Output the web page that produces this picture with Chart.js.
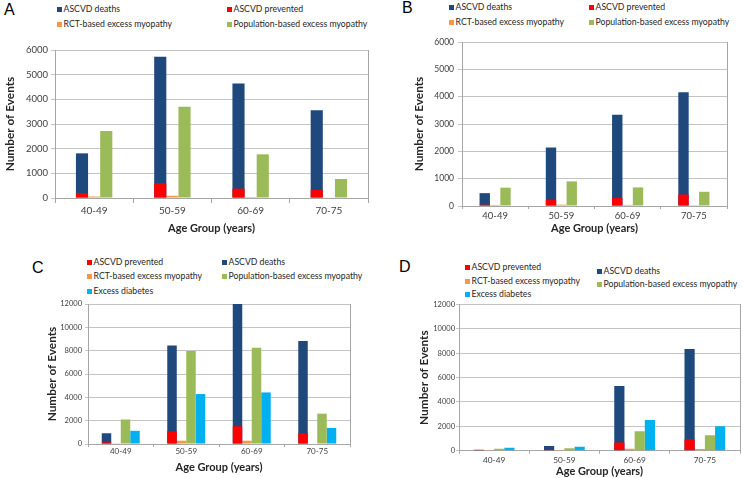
<!DOCTYPE html>
<html>
<head>
<meta charset="utf-8">
<script src="https://cdn.jsdelivr.net/npm/chart.js@4.4.0/dist/chart.umd.min.js"></script>
<style>
body { margin: 0; width: 743px; height: 478px; background: #ffffff; position: relative; overflow: hidden; font-family: Lato, sans-serif; }
.chart-box { position: absolute; }
.letter { position: absolute; font-family: 'Liberation Sans', Arial, sans-serif; font-size: 16px; color: #000; line-height: 16px; }
.leg { position: absolute; font-size: 8.7px; color: #262626; white-space: nowrap; line-height: 12px; transform: translateY(-50%); }
.leg span { display: inline-block; width: 5px; height: 5px; margin-right: 1.5px; vertical-align: 0.5px; }
</style>
</head>
<body>
<script>
const ageGroups = ['40-49', '50-59', '60-69', '70-75'];

const seriesNames = {
    deaths: 'ASCVD deaths',
    prevented: 'ASCVD prevented',
    rct: 'RCT-based excess myopathy',
    pop: 'Population-based excess myopathy',
    diabetes: 'Excess diabetes'
};
const seriesColors = {
    deaths: '#1f497d',
    prevented: '#ff0000',
    rct: '#f79646',
    pop: '#9bbb59',
    diabetes: '#00b0f0'
};

// panel A
const deathsA = [1810, 5730, 4640, 3560];
const preventedA = [200, 600, 380, 320];
const rctA = [60, 90, 40, 25];
const popA = [2720, 3700, 1770, 770];

// panel B
const deathsB = [470, 2140, 3340, 4160];
const preventedB = [50, 220, 290, 420];
const rctB = [40, 50, 40, 30];
const popB = [670, 900, 680, 520];

// panel C
const deathsC = [920, 8450, 12000, 8820];
const preventedC = [150, 1100, 1520, 940];
const rctC = [20, 280, 280, 40];
const popC = [2100, 7980, 8250, 2600];
const diabetesC = [1130, 4280, 4420, 1380];

// panel D
const deathsD = [80, 390, 5320, 8350];
const preventedD = [20, 50, 680, 940];
const rctD = [10, 20, 160, 130];
const popD = [150, 200, 1600, 1260];
const diabetesD = [240, 330, 2520, 2000];

const yMaxTop = 6000, yStepTop = 1000;
const yMaxBottom = 12000, yStepBottom = 2000;

const gridColor = '#c4c4c4';
const axisColor = '#a6a6a6';
const tickColor = '#404040';
const titleColor = '#262626';

const drawOrder = ['prevented', 'deaths', 'rct', 'pop', 'diabetes'];

function addDiv(cls, css, html) {
    const d = document.createElement('div');
    d.className = cls;
    d.style.cssText = css;
    d.innerHTML = html;
    document.body.appendChild(d);
    return d;
}

function makePanel(p) {
    addDiv('letter', `left:${p.letterX}px;top:${p.letterY}px`, p.letter);

    p.legendOrder.forEach((key, i) => {
        const col = i % 2;
        const row = Math.floor(i / 2);
        const y = p.legendRows[col][row];
        addDiv('leg', `left:${p.legendCols[col]}px;top:${y}px`,
            `<span style="background:${seriesColors[key]}"></span>${seriesNames[key]}`);
    });

    const box = addDiv('chart-box', `left:${p.left}px;top:${p.top}px`, '');
    const canvas = document.createElement('canvas');
    canvas.width = p.width;
    canvas.height = p.height;
    box.appendChild(canvas);

    // prevented shares the deaths slot and is drawn over it (not stacked)
    const datasets = Object.keys(p.series).map((key) => ({
        label: seriesNames[key],
        data: p.series[key],
        backgroundColor: seriesColors[key],
        borderWidth: 0,
        stack: key === 'prevented' ? 'deaths' : key,
        order: drawOrder.indexOf(key)
    }));

    new Chart(canvas.getContext('2d'), {
        type: 'bar',
        data: { labels: ageGroups, datasets: datasets },
        options: {
            responsive: false,
            animation: false,
            layout: { padding: { top: p.padTop, left: 0, right: 0, bottom: 0 } },
            datasets: { bar: { categoryPercentage: p.catPct, barPercentage: 1 } },
            plugins: { legend: { display: false }, tooltip: { enabled: false } },
            scales: {
                x: {
                    grid: { offset: true, drawOnChartArea: false, tickLength: p.xTick, color: axisColor },
                    border: { color: axisColor },
                    ticks: {
                        color: tickColor,
                        maxRotation: 0,
                        padding: p.xPad,
                        font: { family: 'Lato', size: p.xFont, lineHeight: 1.0 }
                    },
                    title: {
                        display: true,
                        text: 'Age Group (years)',
                        color: titleColor,
                        padding: 0,
                        font: { family: 'Lato', size: 11, weight: 'bold', lineHeight: 1.2 }
                    },
                    afterFit: (scale) => { scale.height = p.xH; }
                },
                y: {
                    stacked: false,
                    min: 0,
                    max: p.yMax,
                    grid: { color: gridColor, tickLength: p.yTick },
                    border: { color: axisColor },
                    ticks: {
                        stepSize: p.yStep,
                        color: tickColor,
                        padding: p.yPad,
                        font: { family: 'Lato', size: p.yFont },
                        callback: (value) => String(value)
                    },
                    title: {
                        display: true,
                        text: 'Number of Events',
                        color: titleColor,
                        padding: { top: p.yTitlePad, bottom: 0 },
                        font: { family: 'Lato', size: 11.8, weight: 'bold', lineHeight: 1.2 }
                    },
                    afterFit: (scale) => { scale.width = p.yW; }
                },
                yR: {
                    position: 'right',
                    ticks: { display: false },
                    grid: { display: false },
                    border: { color: axisColor },
                    afterFit: (scale) => { scale.width = p.rW; }
                }
            }
        }
    });
}

makePanel({
    letter: 'A', letterX: 4, letterY: 2,
    legendOrder: ['deaths', 'prevented', 'rct', 'pop'],
    legendCols: [57, 227], legendRows: [[9, 24], [9, 24]],
    left: 0, top: 40, width: 372, height: 195,
    padTop: 10, yW: 55, rW: 4, xH: 37,
    xTick: 5, xPad: 3, xFont: 10, yTick: 4, yPad: 3, yFont: 9.5, yTitlePad: 3.5,
    yMax: yMaxTop, yStep: yStepTop, catPct: 0.465,
    series: { deaths: deathsA, prevented: preventedA, rct: rctA, pop: popA }
});

makePanel({
    letter: 'B', letterX: 402, letterY: 0,
    legendOrder: ['deaths', 'prevented', 'rct', 'pop'],
    legendCols: [449, 589], legendRows: [[7, 22], [7, 22]],
    left: 400, top: 32, width: 343, height: 203,
    padTop: 10, yW: 62, rW: 16, xH: 29,
    xTick: 3, xPad: 2, xFont: 9.5, yTick: 4, yPad: 4, yFont: 8.5, yTitlePad: 12,
    yMax: yMaxTop, yStep: yStepTop, catPct: 0.47,
    series: { deaths: deathsB, prevented: preventedB, rct: rctB, pop: popB }
});

makePanel({
    letter: 'C', letterX: 32, letterY: 260,
    legendOrder: ['prevented', 'deaths', 'rct', 'pop', 'diabetes'],
    legendCols: [87, 222], legendRows: [[262, 276, 291], [262, 276]],
    left: 35, top: 296, width: 320, height: 178,
    padTop: 8, yW: 53, rW: 5, xH: 30,
    xTick: 3, xPad: 0, xFont: 8, yTick: 3, yPad: 3, yFont: 7.5, yTitlePad: 10,
    yMax: yMaxBottom, yStep: yStepBottom, catPct: 0.58,
    series: { deaths: deathsC, prevented: preventedC, rct: rctC, pop: popC, diabetes: diabetesC }
});

makePanel({
    letter: 'D', letterX: 399, letterY: 259,
    legendOrder: ['prevented', 'deaths', 'rct', 'pop', 'diabetes'],
    legendCols: [465, 597], legendRows: [[267, 281, 294], [271, 284]],
    left: 405, top: 296, width: 338, height: 182,
    padTop: 8.5, yW: 54, rW: 3, xH: 27.3,
    xTick: 3, xPad: 2, xFont: 8.3, yTick: 3, yPad: 1, yFont: 7.5, yTitlePad: 12,
    yMax: yMaxBottom, yStep: yStepBottom, catPct: 0.58,
    series: { deaths: deathsD, prevented: preventedD, rct: rctD, pop: popD, diabetes: diabetesD }
});
</script>
</body>
</html>
